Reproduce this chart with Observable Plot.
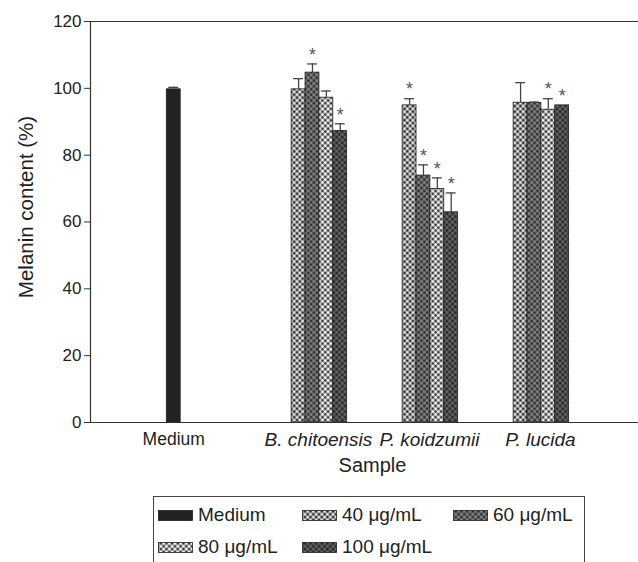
<!DOCTYPE html>
<html>
<head>
<meta charset="utf-8">
<script src="https://cdn.jsdelivr.net/npm/d3@7"></script>
<script src="https://cdn.jsdelivr.net/npm/@observablehq/plot@0.6"></script>
<style>
  html, body { margin: 0; padding: 0; background: #fff; overflow: hidden; }
  body { width: 638px; height: 562px; position: relative; font-family: "Liberation Sans", Arial, Helvetica, sans-serif; color: #222; }
  #chart { position: absolute; left: 0; top: 0; }
  #defs { position: absolute; width: 0; height: 0; }
  #legend {
    position: absolute; left: 153px; top: 496px; width: 432px; height: 80px;
    border: 1px solid #444; box-sizing: border-box;
    display: grid; grid-template-columns: 144px 151px auto; grid-auto-rows: 32px;
    padding: 2px 0 0 4px; font-size: 19px;
  }
  .item { display: flex; align-items: center; }
  .item svg { margin-right: 5px; }
</style>
</head>
<body>
<svg id="defs" aria-hidden="true">
  <defs>
    <pattern id="p40" width="4" height="4" patternUnits="userSpaceOnUse" patternTransform="rotate(45)">
      <rect width="4" height="4" fill="#9a9a9a"/>
      <rect x="0" y="0" width="2" height="2" fill="#e4e4e4"/>
      <rect x="2" y="2" width="2" height="2" fill="#303030"/>
    </pattern>
    <pattern id="p60" width="4" height="4" patternUnits="userSpaceOnUse" patternTransform="rotate(45)">
      <rect width="4" height="4" fill="#626262"/>
      <rect x="0" y="0" width="2" height="2" fill="#858585"/>
      <rect x="2" y="2" width="2" height="2" fill="#2e2e2e"/>
    </pattern>
    <pattern id="p80" width="4" height="4" patternUnits="userSpaceOnUse" patternTransform="rotate(45)">
      <rect width="4" height="4" fill="#a8a8a8"/>
      <rect x="0" y="0" width="2" height="2" fill="#f6f6f6"/>
      <rect x="2" y="2" width="2" height="2" fill="#3a3a3a"/>
    </pattern>
    <pattern id="p100" width="4" height="4" patternUnits="userSpaceOnUse" patternTransform="rotate(45)">
      <rect width="4" height="4" fill="#4c4c4c"/>
      <rect x="0" y="0" width="2" height="2" fill="#666"/>
      <rect x="2" y="2" width="2" height="2" fill="#262626"/>
    </pattern>
  </defs>
</svg>
<div id="chart"></div>
<div id="legend"></div>
<script>
// ---- data ----
const samples = ["Medium", "B. chitoensis", "P. koidzumii", "P. lucida"];
const treatments = ["Medium", "40 μg/mL", "60 μg/mL", "80 μg/mL", "100 μg/mL"];
const treatmentFills = ["#222222", "url(#p40)", "url(#p60)", "url(#p80)", "url(#p100)"];

const mediumMean = [99.7];
const mediumErr = [0.6];
const mediumSig = [false];

const chitoensisMean = [99.7, 104.7, 97.2, 87.2];
const chitoensisErr = [3.2, 2.6, 2.0, 2.2];
const chitoensisSig = [false, true, false, true];

const koidzumiiMean = [94.9, 73.9, 69.9, 62.9];
const koidzumiiErr = [2.0, 3.2, 3.3, 5.8];
const koidzumiiSig = [true, true, true, true];

const lucidaMean = [95.7, 95.6, 93.6, 94.9];
const lucidaErr = [6.0, 0.3, 3.3, 0];
const lucidaSig = [false, false, true, true];

const yTicks = [0, 20, 40, 60, 80, 100, 120];
const yTitle = "Melanin content (%)";
const xTitle = "Sample";

// ---- build table ----
const rows = [];
function addGroup(sample, tr, mean, err, sig) {
  tr.forEach((t, i) => rows.push({sample, treatment: t, key: `${sample}|${t}`, value: mean[i], err: err[i], sig: sig[i]}));
}
addGroup("Medium", ["Medium"], mediumMean, mediumErr, mediumSig);
addGroup("B. chitoensis", treatments.slice(1), chitoensisMean, chitoensisErr, chitoensisSig);
addGroup("P. koidzumii", treatments.slice(1), koidzumiiMean, koidzumiiErr, koidzumiiSig);
addGroup("P. lucida", treatments.slice(1), lucidaMean, lucidaErr, lucidaSig);

// band domain: every group reserves a slot per treatment, with spacer slots between groups
const slots = [];
for (let i = 0; i < 5; i++) slots.push(`lead${i}`);
samples.forEach((s, gi) => {
  treatments.forEach(t => slots.push(`${s}|${t}`));
  if (gi < samples.length - 1) for (let j = 0; j < 3; j++) slots.push(`gap${gi}-${j}`);
});
for (let i = 0; i < 5; i++) slots.push(`trail${i}`);

const mediumTick = ["Medium|Medium"];
const speciesTicks = samples.slice(1).map(s => `${s}|60 μg/mL`);
const tickName = k => k.split("|")[0];
const withErr = rows.filter(d => d.err > 0);

const chart = Plot.plot({
  width: 638,
  height: 485,
  marginTop: 21,
  marginBottom: 63,
  marginLeft: 90,
  marginRight: 0,
  style: {fontFamily: '"Liberation Sans", Arial, Helvetica, sans-serif', fontSize: "17px", color: "#222", background: "transparent"},
  x: {type: "band", domain: slots, paddingInner: 0, paddingOuter: 0.25, align: 1},
  y: {domain: [0, 120]},
  color: {domain: treatments, range: treatmentFills},
  marks: [
    Plot.barY(rows, {x: "key", y: "value", fill: "treatment", stroke: "#1e1e1e", strokeWidth: 0.8}),
    Plot.ruleX(withErr, {x: "key", y1: "value", y2: d => d.value + d.err, stroke: "#444", strokeWidth: 1.3}),
    Plot.tickY(withErr, {x: "key", y: d => d.value + d.err, stroke: "#444", strokeWidth: 1.3, insetLeft: 2, insetRight: 2}),
    Plot.text(rows.filter(d => d.sig), {x: "key", y: d => d.value + d.err, text: () => "*", dy: -9, fontSize: 18, fill: "#555"}),
    Plot.ruleY([0, 120], {stroke: "#333", strokeWidth: 1.2}),
    Plot.frame({anchor: "left", stroke: "#333", strokeWidth: 1.2}),
    Plot.axisY({ticks: yTicks, tickSize: 6, tickPadding: 3, stroke: "#333", label: null, fontSize: 17}),
    Plot.axisX(mediumTick, {tickSize: 0, tickPadding: 10, tickFormat: tickName, label: null, fontSize: 17.5}),
    Plot.axisX(speciesTicks, {tickSize: 0, tickPadding: 10, tickFormat: tickName, label: null, dx: 6, fontSize: 19, fontStyle: "italic"}),
    Plot.text([yTitle], {text: d => d, frameAnchor: "left", textAnchor: "middle", lineAnchor: "middle", rotate: -90, dx: -64, dy: -15, fontSize: 20.5, fill: "#222"}),
    Plot.text([xTitle], {text: d => d, frameAnchor: "bottom", textAnchor: "middle", lineAnchor: "middle", dy: 43, dx: 8, fontSize: 20, fill: "#222"})
  ]
});
document.getElementById("chart").appendChild(chart);

// ---- legend ----
const legend = document.getElementById("legend");
treatments.forEach((t, i) => {
  const item = document.createElement("div");
  item.className = "item";
  item.innerHTML = `<svg width="35" height="11"><rect x="0.5" y="0.5" width="34" height="10" fill="${treatmentFills[i]}" stroke="#1e1e1e" stroke-width="0.8"/></svg><span>${t}</span>`;
  legend.appendChild(item);
});
</script>
</body>
</html>
